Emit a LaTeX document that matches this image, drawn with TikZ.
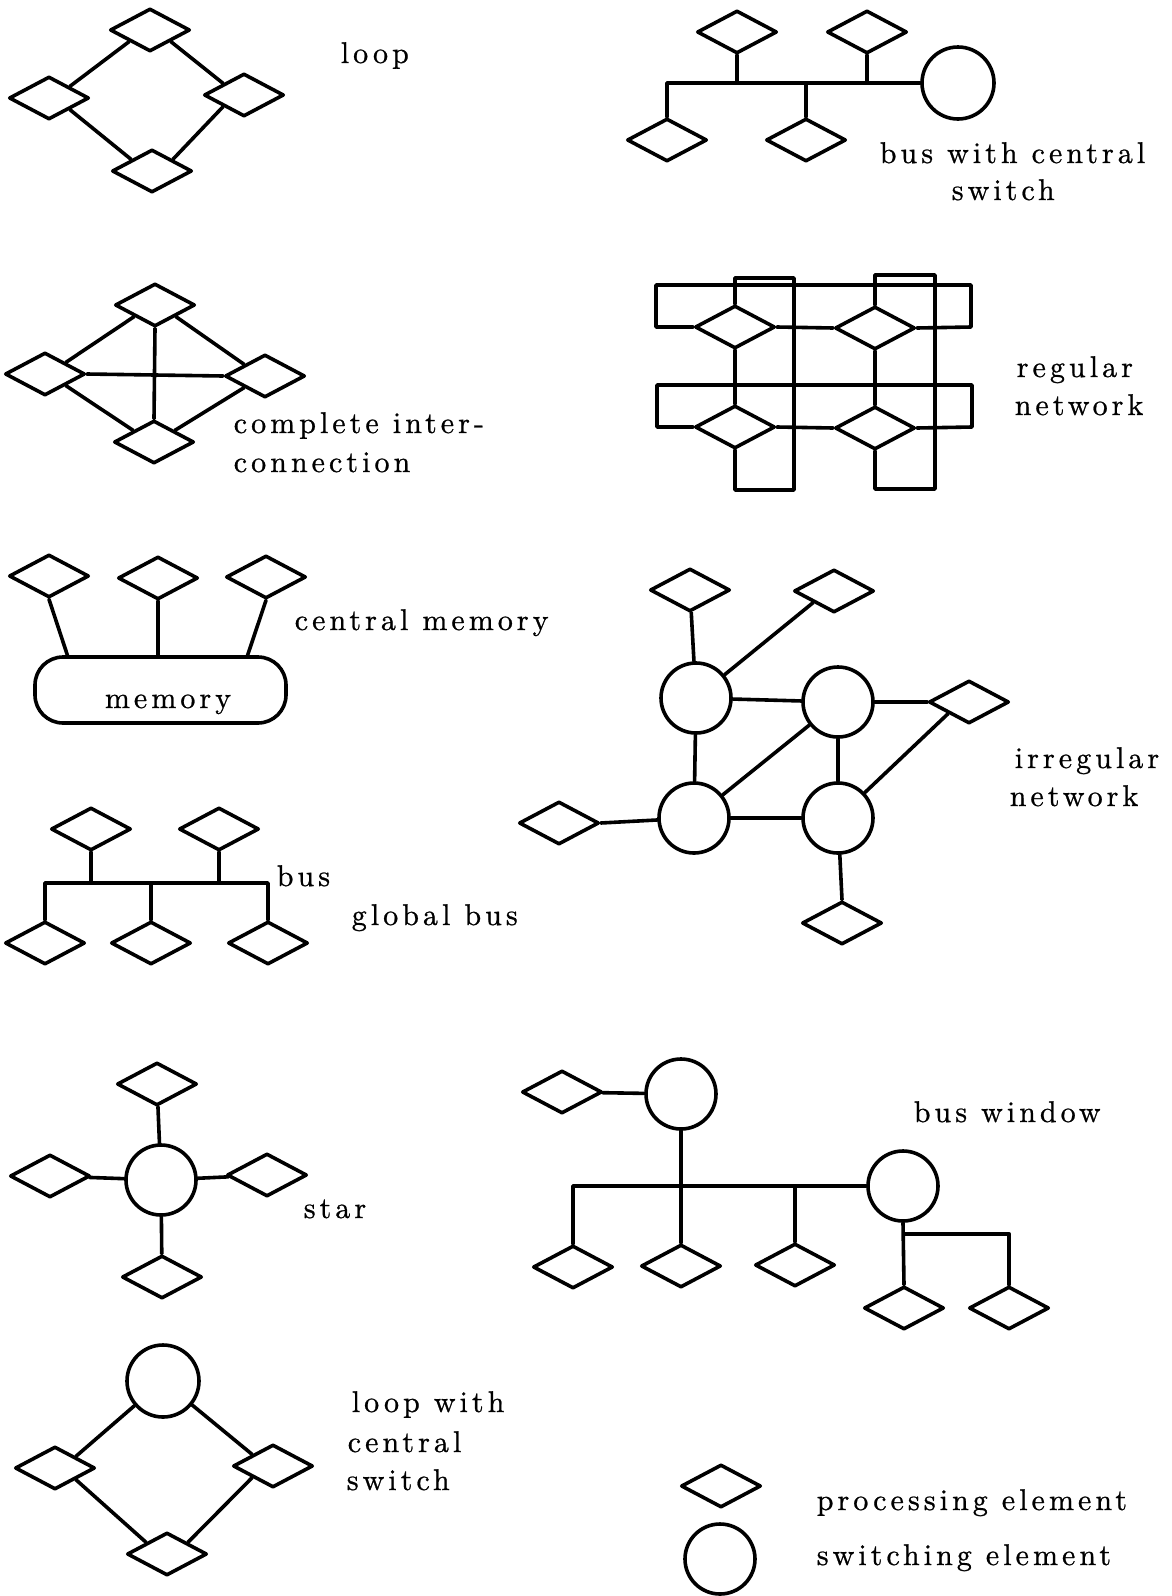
\documentclass[tikz,border=0pt]{standalone}
\usepackage{fontspec}
\usetikzlibrary{shapes.geometric,calc}
\newfontfamily\lblfam{lmroman10-regular}[Extension=.otf, LetterSpace=13.5, FakeBold=0.8]
\newcommand\lblfont{\lblfam\fontsize{15pt}{18pt}\selectfont}
\tikzset{
  pe/.style={diamond, draw, fill=white, minimum width=40pt, minimum height=21.5pt, inner sep=0pt},
  se/.style={circle, draw, fill=white, minimum size=35pt, inner sep=0pt},
  memblock/.style={rectangle, draw, fill=white, rounded corners=14pt, minimum width=125.5pt, minimum height=33pt, inner sep=0pt},
  lbl/.style={anchor=base west, inner sep=0pt, font=\lblfont},
}
\begin{document}
\begin{tikzpicture}[x=0.5pt, y=-0.5pt, line width=1.8pt, line cap=round, line join=round]
\fill[white] (0,0) rectangle (1172,1596);
\useasboundingbox (0,0) rectangle (1172,1596);

% ---------- loop ----------
\node[pe] (lpT) at (150,30) {};
\node[pe] (lpL) at (49,98) {};
\node[pe] (lpR) at (244,95) {};
\node[pe] (lpB) at (152,171) {};
\draw (lpT.south west) -- (lpL.north east);
\draw (lpT.south east) -- (lpR.north west);
\draw (lpL.south east) -- (lpB.north west);
\draw (lpR.south west) -- (lpB.north east);
\node[lbl] (tLoop) at (339,63) {loop};

% ---------- complete interconnection ----------
\node[pe] (ciT) at (155,305) {};
\node[pe] (ciL) at (45,374) {};
\node[pe] (ciR) at (265,376) {};
\node[pe] (ciB) at (154,442) {};
\draw (ciT.south west) -- (ciL.north east);
\draw (ciT.south east) -- (ciR.north west);
\draw (ciL.south east) -- (ciB.north west);
\draw (ciR.south west) -- (ciB.north east);
\draw (ciT.south) -- (ciB.north);
\draw (ciL.east) -- (ciR.west);
\node[lbl] (tCi1) at (232,433) {complete inter-};
\node[lbl] (tCi2) at (232,472) {connection};

% ---------- central memory ----------
\node[pe] (cm1) at (49,576) {};
\node[pe] (cm2) at (158,578) {};
\node[pe] (cm3) at (266,577) {};
\node[memblock] (mem) at (160.5,690) {};
\node[anchor=base, inner sep=0pt, font=\lblfont] (memTxt) at (168,708) {memory};
\coordinate (mA) at (68,657);
\coordinate (mC) at (247,657);
\draw (cm1.south) -- (mA);
\draw (cm2.south) -- (cm2.south |- mem.north);
\draw (cm3.south) -- (mC);
\node[lbl] (tCm) at (293,630) {central memory};

% ---------- global bus ----------
\node[pe] (gt1) at (91,829) {};
\node[pe] (gt2) at (219,829) {};
\node[pe] (gb1) at (45,943) {};
\node[pe] (gb2) at (151,943) {};
\node[pe] (gb3) at (268,943) {};
\coordinate (gbR) at (268,883);
\draw (gb1.north) |- (gbR) -- (gb3.north);
\draw (gb2.north) -- (gb2.north |- gbR);
\draw (gt1.south) -- (gt1.south |- gbR);
\draw (gt2.south) -- (gt2.south |- gbR);
\node[lbl] (tBus) at (275,886) {bus};
\node[lbl] (tGb) at (350,925) {global bus};

% ---------- star ----------
\node[se] (sC) at (161,1180) {};
\node[pe] (sT) at (157,1084) {};
\node[pe] (sL) at (50,1176) {};
\node[pe] (sR) at (267,1175) {};
\node[pe] (sB) at (162,1277) {};
\draw (sT) -- (sC);
\draw (sL) -- (sC);
\draw (sR) -- (sC);
\draw (sB) -- (sC);
\node[lbl] (tStar) at (302,1218) {star};

% ---------- loop with central switch ----------
\node[se, minimum size=36pt] (lsC) at (163,1381) {};
\node[pe] (lsL) at (55,1468) {};
\node[pe] (lsR) at (273,1466) {};
\node[pe] (lsB) at (167,1554) {};
\draw (lsC) -- (lsL.north east);
\draw (lsC) -- (lsR.north west);
\draw (lsL.south east) -- (lsB.north west);
\draw (lsR.south west) -- (lsB.north east);
\node[lbl] (tLs1) at (350,1412) {loop with};
\node[lbl] (tLs2) at (346,1452) {central};
\node[lbl] (tLs3) at (345,1490) {switch};

% ---------- bus with central switch ----------
\node[pe] (bt1) at (737,32) {};
\node[pe] (bt2) at (867,32) {};
\node[se, minimum size=36pt] (bsw) at (958,83) {};
\node[pe] (bb1) at (667,140) {};
\node[pe] (bb2) at (806,140) {};
\draw (bb1.north) |- (bsw.west);
\draw (bb2.north) -- (bb2.north |- bsw.west);
\draw (bt1.south) -- (bt1.south |- bsw.west);
\draw (bt2.south) -- (bt2.south |- bsw.west);
\node[lbl] (tBc1) at (878,163) {bus with central};
\node[lbl] (tBc2) at (950,200) {switch};

% ---------- regular network ----------
\node[pe] (rA) at (735,327) {};
\node[pe] (rB) at (875,328) {};
\node[pe] (rC) at (735,427) {};
\node[pe] (rD) at (875,428) {};
\draw (rA.east) -- (rB.west);
\draw (rC.east) -- (rD.west);
\draw (rA.south) -- (rC.north);
\draw (rB.south) -- (rD.north);
\draw (rA.west) -| (656,285) -| (971,327) -- (rB.east);
\draw (rC.west) -| (657,385) -| (972,427) -- (rD.east);
\draw (rA.north) |- (794,278) -- (794,490) -| (rC.south);
\draw (rB.north) |- (935,275) -- (935,489) -| (rD.south);
\node[lbl] (tRn1) at (1015,377) {regular};
\node[lbl] (tRn2) at (1013,415) {network};

% ---------- irregular network ----------
\node[se] (iC1) at (696,698) {};
\node[se] (iC2) at (838,702) {};
\node[se] (iC3) at (694,818) {};
\node[se] (iC4) at (838,818) {};
\node[pe] (iTL) at (690,590) {};
\node[pe] (iTR) at (834,591) {};
\node[pe] (iR) at (969,702) {};
\node[pe] (iL) at (559,823) {};
\node[pe] (iB) at (842,923) {};
\draw (iTL) -- (iC1);
\draw (iTR.south west) -- (iC1);
\draw (iC1) -- (iC2);
\draw (iC1) -- (iC3);
\draw (iC2) -- (iC3);
\draw (iC2) -- (iC4);
\draw (iC3) -- (iC4);
\draw (iC2) -- (iR.west);
\draw (iR.south west) -- (iC4);
\draw (iL.east) -- (iC3);
\draw (iC4) -- (iB.north);
\node[lbl] (tIn1) at (1013,768) {irregular};
\node[lbl] (tIn2) at (1008,806) {network};

% ---------- bus window ----------
\node[pe] (bwL) at (562,1092) {};
\node[se] (bwC1) at (681,1094) {};
\node[se] (bwC2) at (903,1186) {};
\node[pe] (bw1) at (573,1267) {};
\node[pe] (bw2) at (681,1266) {};
\node[pe] (bw3) at (795,1265) {};
\node[pe] (bw4) at (904,1308) {};
\node[pe] (bw5) at (1009,1308) {};
\draw (bwL) -- (bwC1);
\draw (bw1.north) |- (bwC2.west);
\draw (bwC1.south) -- (bwC1.south |- bwC2.west);
\draw (bw2.north) -- (bw2.north |- bwC2.west);
\draw (bw3.north) -- (bw3.north |- bwC2.west);
\draw (bwC2.south) -- (bw4.north);
\path (bw4.north) ++(0,-51) coordinate (bwj);
\draw (bwj) -| (bw5.north);
\node[lbl] (tBw) at (912,1122) {bus window};

% ---------- legend ----------
\node[pe] (lgPE) at (721,1486) {};
\node[se] (lgSE) at (720,1559) {};
\node[lbl] (tLg1) at (815,1510) {processing element};
\node[lbl] (tLg2) at (815,1565) {switching element};
\end{tikzpicture}
\end{document}
